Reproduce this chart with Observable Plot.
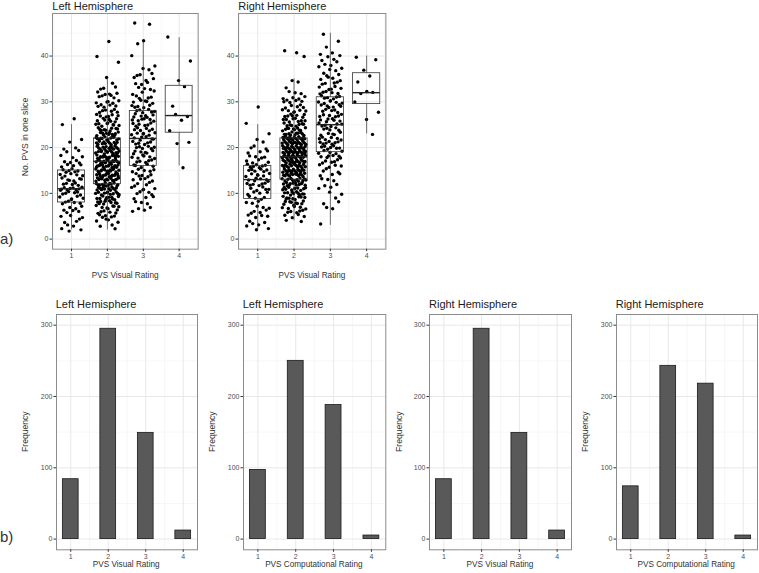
<!DOCTYPE html>
<html><head><meta charset="utf-8">
<script src="https://cdn.jsdelivr.net/npm/d3@7"></script>
<script src="https://cdn.jsdelivr.net/npm/@observablehq/plot@0.6"></script>
<style>
body{margin:0;background:#fff;}
#root{position:relative;width:759px;height:573px;overflow:hidden;background:#fff;}
#root svg{position:absolute;}
</style></head><body><div id="root"></div>
<script>
// ---------- data ----------
const ratings = [1, 2, 3, 4];
// Frequencies (bottom row)
const freqLeftVisual = [84, 295, 149, 12];
const freqLeftComp = [97, 250, 188, 5];
const freqRightVisual = [84, 295, 149, 12];
const freqRightComp = [74, 243, 218, 5];
// No. PVS in one slice: counts of slices per value (index = number of PVS)
const leftR1Counts = [0,0,3,2,3,3,4,3,5,5,6,9,5,6,5,6,4,4,3,2,2,1,1,0,0,1,1];
const leftR2Counts = [0,0,1,2,4,5,6,7,9,10,11,12,13,14,15,15,15,16,15,14,13,12,13,11,9,8,7,6,6,5,5,4,4,3,1,1,0,0,0,1,1,0,0,1];
const leftR3Counts = [0,0,0,0,0,0,2,2,3,3,4,4,4,4,5,5,5,5,6,6,6,6,6,6,6,6,6,6,6,5,5,4,3,3,3,3,3,2,1,0,1,0,0,2,0,0,0,2];
const leftR4Values = [16,21,21,24,26,27,27,29,33,35,39,44];
const rightR1Counts = [0,0,2,3,2,4,4,3,3,4,4,5,6,6,6,6,7,4,4,3,3,1,1,1,0,1,0,0,0,1];
const rightR2Counts = [0,0,0,0,2,4,5,6,8,9,10,10,12,13,14,15,15,16,17,17,17,16,16,11,10,8,8,7,6,5,5,4,3,1,1,1,0,0,0,0,1,2];
const rightR3Counts = [0,0,0,1,0,0,0,2,2,1,2,2,2,3,3,3,4,5,6,5,7,7,6,5,5,6,6,6,5,6,6,6,5,5,4,4,3,3,3,3,3,1,1,1,0,1];
const rightR4Values = [23,26,28,30,32,32,32,34,36,37,39,40];
// tick values
const yTicksTop = [0, 10, 20, 30, 40];
const yMinorTop = [5, 15, 25, 35, 45];
const yTicksBot = [0, 100, 200, 300];
const yMinorBot = [50, 150, 250];
const xMinor = [0.5, 1.5, 2.5, 3.5, 4.5];

// ---------- helpers ----------
const FONT = "Liberation Sans, Arial, Helvetica, sans-serif";
const root = document.getElementById("root");
const expand = counts => counts.flatMap((c, v) => Array(c).fill(v));
// deterministic, evenly spread jitter offsets in [0,1) (Halton sequence)
function halton(i, b) { let f = 1, r = 0; while (i > 0) { f /= b; r += f * (i % b); i = Math.floor(i / b); } return r; }

function boxStats(r, vals) {
  const s = vals.slice().sort(d3.ascending);
  const q1 = d3.quantileSorted(s, 0.25), med = d3.quantileSorted(s, 0.5), q3 = d3.quantileSorted(s, 0.75);
  const iqr = q3 - q1;
  return {r, q1, med, q3,
    lo: d3.min(s.filter(v => v >= q1 - 1.5 * iqr)),
    hi: d3.max(s.filter(v => v <= q3 + 1.5 * iqr))};
}

const ML = 30, MT = 4, MR = 4, MB = 16;
function place(svg, f) {
  svg.style.left = (f.x0 - ML) + "px";
  svg.style.top = (f.y0 - MT) + "px";
  root.appendChild(svg);
}
function axes(yTicks) {
  return [
    Plot.axisX(ratings, {tickSize: 2.5, tickPadding: 1.5, fontSize: 7, stroke: "#333", fill: "#4d4d4d", label: null}),
    Plot.axisY(yTicks, {tickSize: 2.5, tickPadding: 1.5, fontSize: 7, stroke: "#333", fill: "#4d4d4d", label: null})
  ];
}

function boxPanel(groups, f, seed) {
  const pts = [], st = [];
  groups.forEach(([r, vals]) => {
    st.push(boxStats(r, vals));
    vals.forEach((v, i) => {
      const k = i + 1 + r * 101 + seed;
      pts.push({
        x: r + (halton(k, 2) - 0.5) * 0.66,
        y: v + (halton(k, 3) - 0.5) * 0.8
      });
    });
  });
  const xd = [0.47, 4.53];
  const svg = Plot.plot({
    width: f.x1 - f.x0 + ML + MR, height: f.y1 - f.y0 + MT + MB,
    marginLeft: ML, marginRight: MR, marginTop: MT, marginBottom: MB,
    x: {domain: xd, axis: null}, y: {domain: [-2.2, 49.3], axis: null},
    style: {fontFamily: FONT, background: "transparent", overflow: "visible"},
    marks: [
      Plot.ruleY(yMinorTop, {stroke: "#f1f1f1", strokeWidth: 0.6}),
      Plot.ruleX(xMinor.filter(v => v > xd[0] && v < xd[1]), {stroke: "#f1f1f1", strokeWidth: 0.6}),
      Plot.ruleY(yTicksTop, {stroke: "#e8e8e8", strokeWidth: 1}),
      Plot.ruleX(ratings, {stroke: "#e8e8e8", strokeWidth: 1}),
      Plot.dot(pts, {x: "x", y: "y", r: 1.7, fill: "#000", stroke: null}),
      Plot.ruleX(st, {x: "r", y1: "lo", y2: "q1", stroke: "#333", strokeWidth: 0.7}),
      Plot.ruleX(st, {x: "r", y1: "q3", y2: "hi", stroke: "#333", strokeWidth: 0.7}),
      Plot.rect(st, {x1: d => d.r - 0.375, x2: d => d.r + 0.375, y1: "q1", y2: "q3", fill: "none", stroke: "#333", strokeWidth: 0.8}),
      Plot.ruleY(st, {y: "med", x1: d => d.r - 0.375, x2: d => d.r + 0.375, stroke: "#222", strokeWidth: 1.4}),
      Plot.frame({stroke: "#8c8c8c", strokeWidth: 1}),
      ...axes(yTicksTop)
    ]
  });
  place(svg, f);
}

function barPanel(freq, f) {
  const data = ratings.map((r, i) => ({r, n: freq[i]}));
  const xd = [0.62, 4.38];
  const svg = Plot.plot({
    width: f.x1 - f.x0 + ML + MR, height: f.y1 - f.y0 + MT + MB,
    marginLeft: ML, marginRight: MR, marginTop: MT, marginBottom: MB,
    x: {domain: xd, axis: null}, y: {domain: [-15, 315], axis: null},
    style: {fontFamily: FONT, background: "transparent", overflow: "visible"},
    marks: [
      Plot.ruleY(yMinorBot, {stroke: "#f1f1f1", strokeWidth: 0.6}),
      Plot.ruleX(xMinor.filter(v => v > xd[0] && v < xd[1]), {stroke: "#f1f1f1", strokeWidth: 0.6}),
      Plot.ruleY(yTicksBot, {stroke: "#e8e8e8", strokeWidth: 1}),
      Plot.ruleX(ratings, {stroke: "#e8e8e8", strokeWidth: 1}),
      Plot.rectY(data, {x1: d => d.r - 0.21, x2: d => d.r + 0.21, y: "n", fill: "#595959", stroke: "#1a1a1a", strokeWidth: 0.8}),
      Plot.frame({stroke: "#8c8c8c", strokeWidth: 1}),
      ...axes(yTicksBot)
    ]
  });
  place(svg, f);
}

// ---------- panels ----------
const topY = {y0: 13.3, y1: 249};
const botY = {y0: 314, y1: 549.3};
const fTL = {x0: 52.3, x1: 198, ...topY};
const fTR = {x0: 238.3, x1: 385.7, ...topY};
const fB = [
  {x0: 55.7, x1: 196.7, ...botY},
  {x0: 242.7, x1: 385, ...botY},
  {x0: 429, x1: 571, ...botY},
  {x0: 615.7, x1: 756.7, ...botY}
];

boxPanel([[1, expand(leftR1Counts)], [2, expand(leftR2Counts)], [3, expand(leftR3Counts)], [4, leftR4Values]], fTL, 0);
boxPanel([[1, expand(rightR1Counts)], [2, expand(rightR2Counts)], [3, expand(rightR3Counts)], [4, rightR4Values]], fTR, 1000);
barPanel(freqLeftVisual, fB[0]);
barPanel(freqLeftComp, fB[1]);
barPanel(freqRightVisual, fB[2]);
barPanel(freqRightComp, fB[3]);

// ---------- titles & labels (text overlay) ----------
const ov = d3.select(root).append("svg").attr("width", 759).attr("height", 573)
  .style("left", "0px").style("top", "0px").style("font-family", FONT).style("pointer-events", "none");
function txt(s, x, y, size, opts = {}) {
  const t = ov.append("text").text(s).attr("font-size", size).attr("fill", opts.fill || "#1a1a1a")
    .attr("text-anchor", opts.anchor || "start");
  if (opts.rotate) t.attr("transform", `translate(${x},${y}) rotate(-90)`);
  else t.attr("x", x).attr("y", y);
}
const mid = f => (f.x0 + f.x1) / 2;
const vmid = f => (f.y0 + f.y1) / 2;
txt("Left Hemisphere", fTL.x0, 9.5, 11);
txt("Right Hemisphere", fTR.x0, 9.5, 11);
txt("PVS Visual Rating", mid(fTL), 278, 8.2, {anchor: "middle", fill: "#333"});
txt("PVS Visual Rating", mid(fTR), 278, 8.2, {anchor: "middle", fill: "#333"});
txt("No. PVS in one slice", 28, 137, 8.6, {anchor: "middle", rotate: true, fill: "#333"});
txt("a)", 0, 244, 15, {fill: "#333"});
txt("b)", 0, 542, 15, {fill: "#333"});
const botTitles = ["Left Hemisphere", "Left Hemisphere", "Right Hemisphere", "Right Hemisphere"];
const botX = ["PVS Visual Rating", "PVS Computational Rating", "PVS Visual Rating", "PVS Computational Rating"];
fB.forEach((f, i) => {
  txt(botTitles[i], f.x0, 307.5, 11);
  txt(botX[i], mid(f), 567, 8.2, {anchor: "middle", fill: "#333"});
  txt("Frequency", f.x0 - 27.5, vmid(f), 8.6, {anchor: "middle", rotate: true, fill: "#333"});
});
</script></body></html>
